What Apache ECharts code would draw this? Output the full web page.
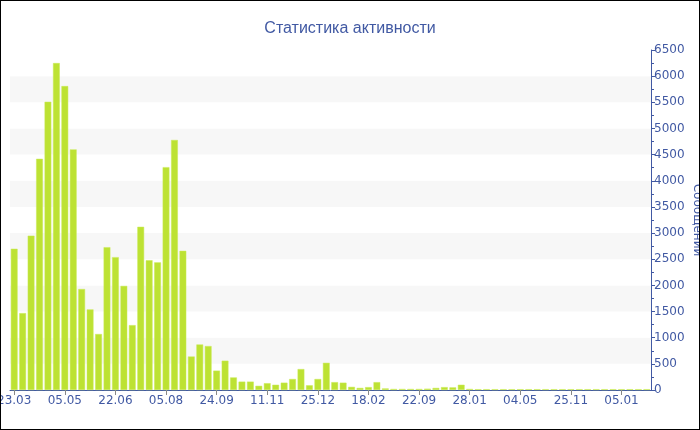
<!DOCTYPE html>
<html>
<head>
<meta charset="utf-8">
<script src="https://cdn.jsdelivr.net/npm/echarts@6/dist/echarts.min.js"></script>
<style>
html,body{margin:0;padding:0;background:#fff;}
#c{width:700px;height:430px;box-sizing:border-box;border:1px solid #000;}
</style>
</head>
<body>
<div id="c"></div>
<script>
var titleText = 'Статистика активности';
var yName = 'Сообщений';
var categories = [
  '23.03','30.03','06.04','13.04','20.04','28.04',
  '05.05','13.05','21.05','29.05','06.06','14.06',
  '22.06','29.06','06.07','14.07','21.07','29.07',
  '05.08','13.08','21.08','29.08','07.09','16.09',
  '24.09','02.10','10.10','18.10','26.10','03.11',
  '11.11','18.11','25.11','03.12','10.12','17.12',
  '25.12','03.01','12.01','21.01','30.01','08.02',
  '18.02','26.03','01.05','06.06','12.07','17.08',
  '22.09','13.10','03.11','24.11','15.12','06.01',
  '28.01','13.02','01.03','17.03','02.04','18.04',
  '04.05','08.06','12.07','15.08','18.09','22.10',
  '25.11','02.12','09.12','16.12','23.12','29.12',
  '05.01','12.01','19.01','26.01'
];
var messages = [
  2700,1470,2950,4420,5510,6250,5810,4600,1930,1540,1070,2730,2540,1990,1240,3120,2480,2440,4260,4780,2660,640,870,840,370,560,240,160,
  160,80,130,100,140,210,400,90,210,520,150,140,60,40,55,150,30,20,20,20,20,25,40,55,50,100,20,
  15,15,15,15,15,15,15,15,15,15,15,15,15,15,15,15,15,15,15,15,15
];
var yMax = 6500, yStep = 500;

var blue = '#4159a3';
var chart = echarts.init(document.getElementById('c'));
chart.setOption({
  animation: false,
  title: {
    text: titleText, left: 'center', top: 15,
    textStyle: {color: blue, fontSize: 16, fontWeight: 'normal', fontFamily: 'Liberation Sans'}
  },
  grid: {left: 9, right: 48, top: 49, bottom: 39, containLabel: false, outerBoundsMode: 'none'},
  xAxis: {
    type: 'category', data: categories,
    axisLine: {lineStyle: {color: blue, width: 1}},
    axisTick: {show: true, alignWithLabel: true, interval: 5, length: 5, lineStyle: {color: '#888'}},
    axisLabel: {interval: 5, color: blue, fontSize: 12, fontFamily: 'DejaVu Sans', margin: 5},
    splitLine: {show: false}
  },
  yAxis: {
    type: 'value', position: 'right', min: 0, max: yMax, interval: yStep,
    name: yName, nameLocation: 'middle', nameRotate: -90, nameGap: 40, nameMoveOverlap: false,
    nameTextStyle: {color: blue, fontSize: 12, fontFamily: 'DejaVu Sans'},
    axisLine: {show: true, lineStyle: {color: blue}},
    axisTick: {show: true, length: 4, lineStyle: {color: blue}},
    minorTick: {show: true, splitNumber: 2, length: 3, lineStyle: {color: blue}},
    axisLabel: {color: blue, fontSize: 12, fontFamily: 'DejaVu Sans', margin: 3,
      formatter: function (v) { return String(v); }},
    splitLine: {show: false},
    splitArea: {show: true, areaStyle: {color: ['#ffffff', '#f7f7f7']}}
  },
  series: [{
    type: 'bar', data: messages, barWidth: '80%',
    itemStyle: {color: '#bde233', borderColor: '#c8ea55', borderWidth: 0.5}
  }]
});
</script>
</body>
</html>
